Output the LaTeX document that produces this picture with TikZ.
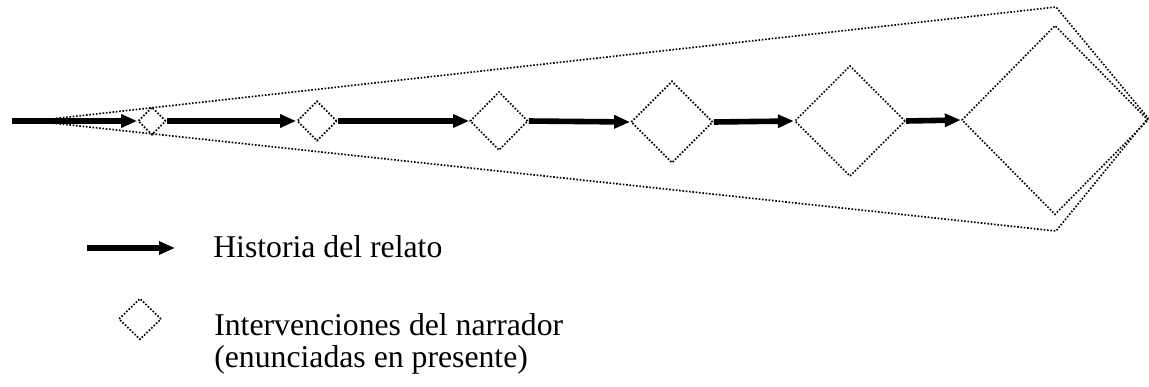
\documentclass[tikz,border=0pt]{standalone}
\usepackage{fontspec}
\setmainfont{Liberation Serif}
\usetikzlibrary{shapes.geometric, arrows.meta, positioning}

\begin{document}
\begin{tikzpicture}[
    x=0.75pt, y=-0.75pt,
    diam/.style = {diamond, draw, inner sep=0pt, line width=1.25pt, dash pattern=on 1.2pt off 1.3pt},
    guide/.style = {line width=1.25pt, dash pattern=on 1.2pt off 1.3pt},
    arrow/.style = {line width=4.2pt, -{Triangle[length=12pt, width=9.5pt]}},
    label/.style = {anchor=base west, inner sep=0pt, font=\fontsize{23.8}{26}\selectfont}
]
    \useasboundingbox (0,0) rectangle (1149,386);

    % Intervenciones, growing along the line
    \node[diam, minimum width=21pt, minimum height=21pt] (d1) at (152,121) {};
    \node[diam, minimum width=30pt, minimum height=30pt] (d2) at (317,121) {};
    \node[diam, minimum width=43.5pt, minimum height=44pt] (d3) at (499,121) {};
    \node[diam, minimum width=61.5pt, minimum height=61.5pt] (d4) at (672,122) {};
    \node[diam, minimum width=83pt, minimum height=83pt] (d5) at (850,121) {};
    \node[diam, minimum width=140pt, minimum height=142pt] (d6) at (1055,120) {};

    % Outer cone
    \coordinate (apex) at (33,121);
    \coordinate (ctop) at (1056,7);
    \coordinate (cright) at (1148,118);
    \coordinate (cbot) at (1056,231);
    \draw[guide] (apex) -- (ctop) -- (cright) -- (cbot) -- cycle;

    % Historia del relato
    \coordinate (start) at (12,121);
    \draw[arrow] (start) -- (d1.west);
    \draw[arrow] (d1.east) -- (d2.west);
    \draw[arrow] (d2.east) -- (d3.west);
    \draw[arrow] (d3.east) -- (d4.west);
    \draw[arrow] (d4.east) -- (d5.west);
    \draw[arrow] (d5.east) -- (d6.west);

    % Legend
    \coordinate (la) at (87,248);
    \coordinate (lb) at (175,248);
    \draw[arrow] (la) -- (lb);
    \node[label] (lhist) at (213,257) {Historia del relato};

    \node[diam, minimum width=32pt, minimum height=31pt] (ldiam) at (140,319) {};
    \node[label] (linter) at (214,335) {Intervenciones del narrador};
    \node[label, below=24pt of linter.base west, anchor=base west] (lpres) {(enunciadas en presente)};
\end{tikzpicture}
\end{document}
